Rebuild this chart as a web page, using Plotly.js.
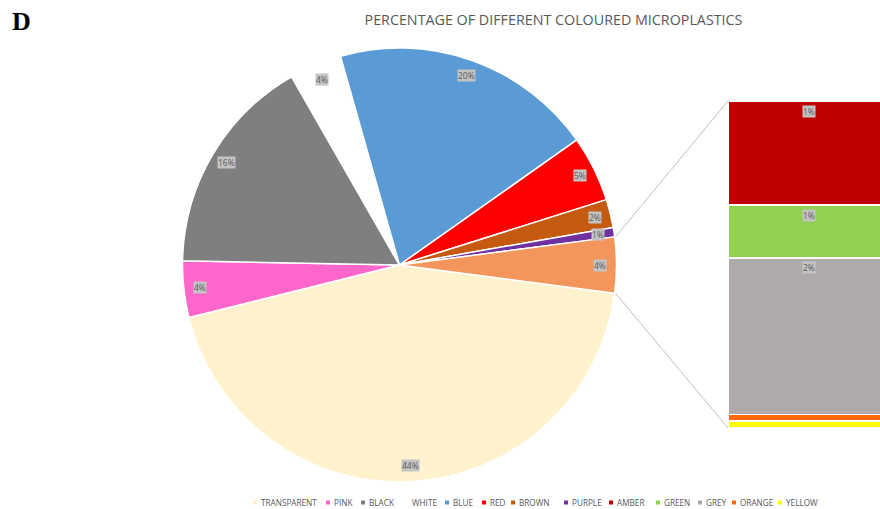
<!DOCTYPE html>
<html>
<head>
<meta charset="utf-8">
<script src="https://cdn.plot.ly/plotly-3.0.1.min.js"></script>
<style>html,body{margin:0;padding:0;background:#fff;}#chart{width:880px;height:509px;}</style>
</head>
<body>
<div id="chart"></div>
<script>
// ---- data ----
var pieLabels = ['TRANSPARENT', 'PINK', 'BLACK', 'WHITE', 'BLUE', 'RED', 'BROWN', 'PURPLE'];
var pieValues = [44.0, 4.2, 16.4, 3.9, 19.6, 4.9, 2.1, 0.7];
var pieColors = ['#FFF2CC', '#FF66CC', '#7F7F7F', '#FFFFFF', '#5B9BD5', '#FF0000', '#C55A11', '#7030A0'];
var barLabels = ['AMBER', 'GREEN', 'GREY', 'ORANGE', 'YELLOW'];
var barValues = [1.32, 0.67, 1.99, 0.08, 0.09];
var barColors = ['#C00000', '#92D050', '#AEAAAA', '#FF6A10', '#FFFF00'];
var otherColor = '#F4965B';
var titleText = 'PERCENTAGE OF DIFFERENT COLOURED MICROPLASTICS';

(function () {
// ---- layout constants ----
var W = 880, H = 509;
var pieDomain = {x: [182 / W, 617 / W], y: [1 - 482 / H, 1 - 48 / H]};
var barDomainX = [728 / W, 1];
var barDomainY = [1 - 428 / H, 1 - 101 / H];
var rotation = 97.5;
var legendTextX = [260, 333, 368, 411, 452, 489, 518, 571, 616, 663, 705, 739, 785];
var legendY = 502.5;

var otherTotal = barValues.reduce(function (a, b) { return a + b; }, 0);
var allPieValues = pieValues.concat([otherTotal]);
var allPieLabels = pieLabels.concat(['OTHER']);
var allPieColors = pieColors.concat([otherColor]);
var grandTotal = allPieValues.reduce(function (a, b) { return a + b; }, 0);

var traces = [];
traces.push({
  type: 'pie',
  labels: allPieLabels,
  values: allPieValues,
  sort: false,
  direction: 'clockwise',
  rotation: rotation,
  marker: {colors: allPieColors, line: {color: '#FFFFFF', width: 1.5}},
  textinfo: 'none',
  hoverinfo: 'skip',
  domain: pieDomain,
  showlegend: false
});

for (var i = barLabels.length - 1; i >= 0; i--) {
  traces.push({
    type: 'bar',
    x: [0],
    y: [barValues[i]],
    width: [1],
    name: barLabels[i],
    marker: {color: barColors[i], line: {color: '#FFFFFF', width: 1.5}},
    hoverinfo: 'skip',
    showlegend: false
  });
}

var annotations = [];
var shapes = [];

var cx = (pieDomain.x[0] + pieDomain.x[1]) / 2 * W;
var cy = (1 - (pieDomain.y[0] + pieDomain.y[1]) / 2) * H;
var R = Math.min((pieDomain.x[1] - pieDomain.x[0]) * W, (pieDomain.y[1] - pieDomain.y[0]) * H) / 2;
var rl = R * 0.926;
var cum = 0;
var labelFont = {family: 'Open Sans, sans-serif', size: 8.5, color: '#595959'};
for (var k = 0; k < allPieValues.length; k++) {
  var mid = (rotation + 360 * (cum + allPieValues[k] / 2) / grandTotal) * Math.PI / 180;
  var px = cx + rl * Math.sin(mid);
  var py = cy - rl * Math.cos(mid);
  annotations.push({
    xref: 'paper', yref: 'paper', x: px / W, y: 1 - py / H,
    xanchor: 'center', yanchor: 'middle', showarrow: false,
    text: Math.round(allPieValues[k] / grandTotal * 100) + '%',
    font: labelFont, bgcolor: '#C3C3C3', borderpad: 0
  });
  cum += allPieValues[k];
}

var segTop = otherTotal;
for (var j = 0; j < barLabels.length; j++) {
  var pct = Math.round(barValues[j] / grandTotal * 100);
  if (pct >= 1) {
    annotations.push({
      xref: 'x', yref: 'y', x: 0, y: segTop, yshift: -10,
      xanchor: 'center', yanchor: 'middle', showarrow: false,
      text: pct + '%', font: labelFont, bgcolor: '#C3C3C3', borderpad: 0
    });
  }
  segTop -= barValues[j];
}

var startOther = (rotation + 360 * (grandTotal - otherTotal) / grandTotal) * Math.PI / 180;
var endOther = (rotation + 360) * Math.PI / 180;
var p1 = [cx + (R + 1) * Math.sin(startOther), cy - (R + 1) * Math.cos(startOther)];
var p2 = [cx + (R + 1) * Math.sin(endOther), cy - (R + 1) * Math.cos(endOther)];
shapes.push({type: 'line', xref: 'paper', yref: 'paper', x0: p1[0] / W, y0: 1 - p1[1] / H,
  x1: barDomainX[0], y1: barDomainY[1], line: {color: '#BFBFBF', width: 1}});
shapes.push({type: 'line', xref: 'paper', yref: 'paper', x0: p2[0] / W, y0: 1 - p2[1] / H,
  x1: barDomainX[0], y1: barDomainY[0], line: {color: '#BFBFBF', width: 1}});

var legendNames = pieLabels.concat(barLabels);
var legendColors = pieColors.concat(barColors);
var legendFont = {family: 'Open Sans, sans-serif', size: 8.2, color: '#595959'};
for (var m = 0; m < legendNames.length; m++) {
  var tx = legendTextX[m];
  shapes.push({type: 'rect', xref: 'paper', yref: 'paper',
    x0: (tx - 7) / W, x1: (tx - 3) / W, y0: 1 - (legendY + 2) / H, y1: 1 - (legendY - 2) / H,
    fillcolor: legendColors[m], line: {width: 0}});
  annotations.push({xref: 'paper', yref: 'paper', x: tx / W, y: 1 - legendY / H,
    xanchor: 'left', yanchor: 'middle', showarrow: false, text: legendNames[m],
    font: legendFont, borderpad: 0});
}

annotations.push({xref: 'paper', yref: 'paper', x: 10 / W, y: 1 - 21 / H, xanchor: 'left', yanchor: 'middle',
  showarrow: false, text: '<b>D</b>', font: {family: 'Liberation Serif, serif', size: 26, color: '#000000'}});

var layout = {
  width: W, height: H,
  margin: {l: 0, r: 0, t: 0, b: 0},
  paper_bgcolor: '#FFFFFF', plot_bgcolor: 'rgba(0,0,0,0)',
  barmode: 'stack', bargap: 0,
  showlegend: false,
  title: {text: titleText, x: 553.5 / W, xref: 'paper', xanchor: 'center', y: 1 - 20 / H, yanchor: 'middle',
    font: {family: 'Open Sans, sans-serif', size: 14.3, color: '#595959'}},
  xaxis: {domain: barDomainX, range: [-0.5, 0.438], visible: false, fixedrange: true},
  yaxis: {domain: barDomainY, range: [0, otherTotal], visible: false, fixedrange: true},
  annotations: annotations,
  shapes: shapes
};

Plotly.newPlot('chart', traces, layout, {displayModeBar: false, staticPlot: true});
})();
</script>
</body>
</html>
